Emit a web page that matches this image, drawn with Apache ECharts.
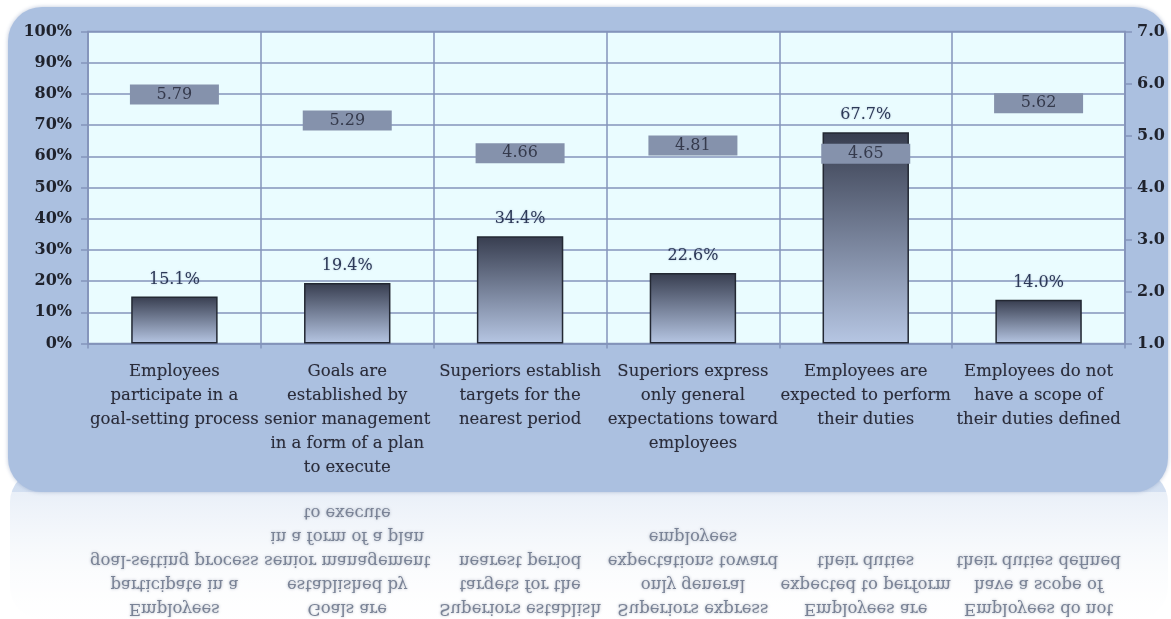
<!DOCTYPE html>
<html>
<head>
<meta charset="utf-8">
<script src="https://cdn.jsdelivr.net/npm/echarts@6/dist/echarts.min.js"></script>
<style>
html,body{margin:0;padding:0;background:#fff;}
#chart{width:1171px;height:619px;}
</style>
</head>
<body>
<div id="chart"></div>
<script>
// ---- data ----
var categories = [
  "Employees\nparticipate in a\ngoal-setting process",
  "Goals are\nestablished by\nsenior management\nin a form of a plan\nto execute",
  "Superiors establish\ntargets for the\nnearest period",
  "Superiors express\nonly general\nexpectations toward\nemployees",
  "Employees are\nexpected to perform\ntheir duties",
  "Employees do not\nhave a scope of\ntheir duties defined"
];
var sharePercent = [15.1, 19.4, 34.4, 22.6, 67.7, 14.0];
var meanScore = [5.79, 5.29, 4.66, 4.81, 4.65, 5.62];
var leftTicks = {min: 0, max: 100, interval: 10};
var rightTicks = {min: 1, max: 7, interval: 1};

var SERIF = "'DejaVu Serif', 'Liberation Serif', serif";
var GRID_COLOR = '#8494bb';

var chart = echarts.init(document.getElementById('chart'));
var option = {
  backgroundColor: '#ffffff',
  animation: false,
  grid: {
    left: 88, right: 46, top: 31.5, bottom: 275.5,
    show: true, backgroundColor: '#eafcff', borderColor: GRID_COLOR, borderWidth: 1.5
  },
  xAxis: {
    type: 'category',
    data: categories,
    boundaryGap: true,
    axisLine: {show: true, lineStyle: {color: GRID_COLOR, width: 1.5}},
    axisTick: {show: true, length: 5, lineStyle: {color: GRID_COLOR, width: 1.5}},
    splitLine: {show: true, lineStyle: {color: GRID_COLOR, width: 1.5}},
    axisLabel: {
      interval: 0, margin: 16, fontFamily: SERIF, fontSize: 16.5, lineHeight: 24,
      color: '#2a2c3a', hideOverlap: false,
      textShadowColor: 'rgba(40,44,60,0.35)', textShadowBlur: 1
    }
  },
  yAxis: [
    {
      type: 'value', position: 'left',
      min: leftTicks.min, max: leftTicks.max, interval: leftTicks.interval,
      axisLine: {show: true, lineStyle: {color: GRID_COLOR, width: 1.5}},
      axisTick: {show: true, length: 7, lineStyle: {color: GRID_COLOR, width: 1.5}},
      splitLine: {show: true, lineStyle: {color: GRID_COLOR, width: 1.5}},
      axisLabel: {
        formatter: '{value}%', margin: 16, fontFamily: SERIF, fontSize: 16,
        fontWeight: 'bold', color: '#1f222c'
      }
    },
    {
      type: 'value', position: 'right',
      min: rightTicks.min, max: rightTicks.max, interval: rightTicks.interval,
      axisLine: {show: true, lineStyle: {color: GRID_COLOR, width: 1.5}},
      axisTick: {show: true, length: 7, lineStyle: {color: GRID_COLOR, width: 1.5}},
      splitLine: {show: false},
      axisLabel: {
        formatter: function (v) { return v.toFixed(1); }, margin: 12,
        fontFamily: SERIF, fontSize: 16, fontWeight: 'bold', color: '#1f222c'
      }
    }
  ],
  series: [
    {
      type: 'bar',
      yAxisIndex: 0,
      data: sharePercent,
      barWidth: '50%',
      itemStyle: {
        color: new echarts.graphic.LinearGradient(0, 0, 0, 1, [
          {offset: 0, color: '#373d4f'},
          {offset: 1, color: '#b6c6e3'}
        ]),
        borderColor: '#232833',
        borderWidth: 1.5
      },
      label: {
        show: true, position: 'top', distance: 9,
        formatter: function (p) { return p.value.toFixed(1) + '%'; },
        fontFamily: SERIF, fontSize: 16, color: '#2d3957',
        textShadowColor: 'rgba(60,80,130,0.35)', textShadowBlur: 2
      },
      emphasis: {disabled: true},
      z: 2
    },
    {
      type: 'line',
      yAxisIndex: 1,
      data: meanScore,
      symbol: 'rect',
      symbolSize: [89, 20],
      showSymbol: true,
      lineStyle: {width: 0, opacity: 0},
      itemStyle: {color: '#8592ac', opacity: 1},
      label: {
        show: true, position: 'inside',
        formatter: function (p) { return p.value.toFixed(2); },
        fontFamily: SERIF, fontSize: 16, color: '#353a4c'
      },
      emphasis: {disabled: true},
      z: 3
    }
  ]
};
chart.setOption(option);

// ---- decorative panel and its reflection ----
var MIRROR_Y = 490;
var reflectedTexts = categories.map(function (c, i) {
  var cx = chart.convertToPixel({xAxisIndex: 0}, i);
  return {
    type: 'text',
    style: {
      text: c, x: cx, y: 359.5,
      font: '16.5px ' + SERIF, fill: '#7a8396',
      align: 'center', verticalAlign: 'top', lineHeight: 24,
      textShadowColor: 'rgba(120,130,150,0.6)', textShadowBlur: 3
    },
    silent: true
  };
});

chart.setOption({
  graphic: [
    {
      type: 'rect', z: -30, silent: true,
      shape: {x: 10, y: 470, width: 1158, height: 149, r: 32},
      style: {
        fill: new echarts.graphic.LinearGradient(0, 0, 0, 1, [
          {offset: 0, color: '#cddbef'},
          {offset: 1, color: '#f7f9fc'}
        ])
      }
    },
    {
      type: 'group', z: -29, silent: true,
      x: 0, y: 2 * MIRROR_Y, scaleY: -1,
      children: reflectedTexts
    },
    {
      type: 'rect', z: -28, silent: true,
      shape: {x: 0, y: 492, width: 1171, height: 127},
      style: {
        fill: new echarts.graphic.LinearGradient(0, 0, 0, 1, [
          {offset: 0, color: 'rgba(255,255,255,0.5)'},
          {offset: 1, color: 'rgba(255,255,255,0.96)'}
        ])
      }
    },
    {
      type: 'rect', z: -20, silent: true,
      shape: {x: 8, y: 7, width: 1160, height: 485, r: 34},
      style: {
        fill: '#abc0e0',
        shadowBlur: 4, shadowColor: 'rgba(120,140,180,0.5)'
      }
    }
  ]
});
</script>
</body>
</html>
